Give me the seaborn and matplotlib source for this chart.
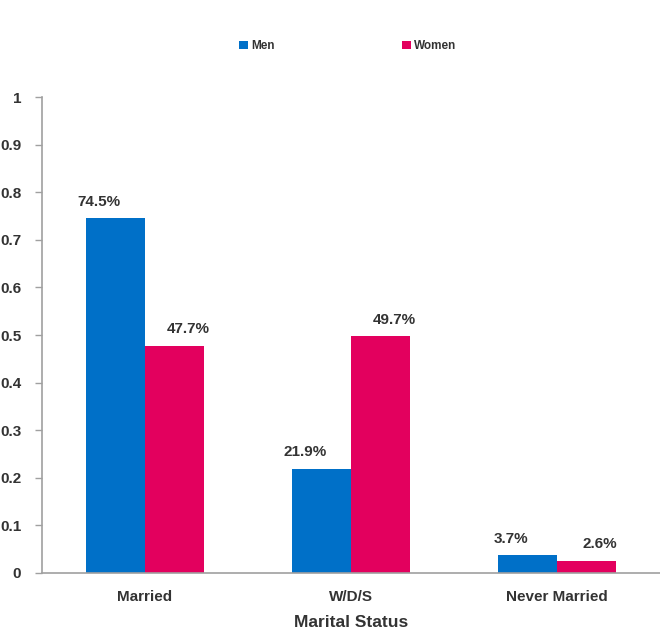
import matplotlib
matplotlib.use("Agg")
import matplotlib.pyplot as plt
import pandas as pd
import seaborn as sns

# data
statuses = ["Married", "W/D/S", "Never Married"]
men = [0.745, 0.219, 0.037]
women = [0.477, 0.497, 0.026]
y_ticks = [0, 0.1, 0.2, 0.3, 0.4, 0.5, 0.6, 0.7, 0.8, 0.9, 1]
y_tick_labels = ["0", "0.1", "0.2", "0.3", "0.4", "0.5", "0.6", "0.7", "0.8", "0.9", "1"]

sns.set_theme(style="white")
plt.rcParams["font.family"] = ["Liberation Sans Narrow", "Liberation Sans", "DejaVu Sans"]
plt.rcParams["font.weight"] = "bold"

text_color = "#333333"
axis_color = "#a0a0a0"
palette = {"Men": "#0070c8", "Women": "#e3005e"}

df = pd.DataFrame({
    "Status": statuses * 2,
    "Group": ["Men"] * len(statuses) + ["Women"] * len(statuses),
    "Share": men + women,
})

fig = plt.figure(figsize=(6.6, 6.39), dpi=100)
ax = fig.add_axes([0.0636, 0.1033, 0.9364, 0.7447])

sns.barplot(data=df, x="Status", y="Share", hue="Group", palette=palette,
            width=0.57, gap=0, saturation=1, linewidth=0, ax=ax, legend=True)

ax.set_ylim(0, 1)
ax.set_xlim(-0.5, 2.5)
ax.set_yticks(y_ticks)
ax.set_yticklabels(y_tick_labels, fontsize=11, fontweight="bold", color=text_color)
ax.set_xticks(range(len(statuses)))
ax.set_xticklabels(statuses, fontsize=11, fontweight="bold", color=text_color)
ax.set_xticks([-0.5, 0.5, 1.5, 2.5], minor=True)
ax.tick_params(axis="x", which="major", length=0, pad=12)
ax.tick_params(axis="x", which="minor", length=5, color=axis_color, width=1)
ax.tick_params(axis="y", length=5, color=axis_color, width=1, left=True, pad=10)

for side in ["top", "right"]:
    ax.spines[side].set_visible(False)
for side in ["left", "bottom"]:
    ax.spines[side].set_color(axis_color)
    ax.spines[side].set_linewidth(1.2)

ax.set_xlabel("Marital Status", fontsize=12.5, fontweight="bold", color=text_color, labelpad=8)
ax.set_ylabel("")

# value labels above bars
offsets = {"Men": -12, "Women": 10}
for container, group in zip(ax.containers, ["Men", "Women"]):
    for patch in container:
        h = patch.get_height()
        ax.annotate(f"{h * 100:.1f}%",
                    (patch.get_x() + patch.get_width() / 2, h),
                    xytext=(offsets[group], 7), textcoords="offset points",
                    ha="center", va="bottom", fontsize=11,
                    fontweight="bold", color=text_color)

handles, labels = ax.get_legend_handles_labels()
ax.legend(handles, labels, loc="center", bbox_to_anchor=(0.495, 1.107),
          ncol=2, frameon=False, columnspacing=10.8, handlelength=0.7,
          handleheight=0.7, handletextpad=0.3,
          prop={"size": 8.5, "weight": "bold"}, labelcolor=text_color)

fig.savefig("out.png", dpi=100)
